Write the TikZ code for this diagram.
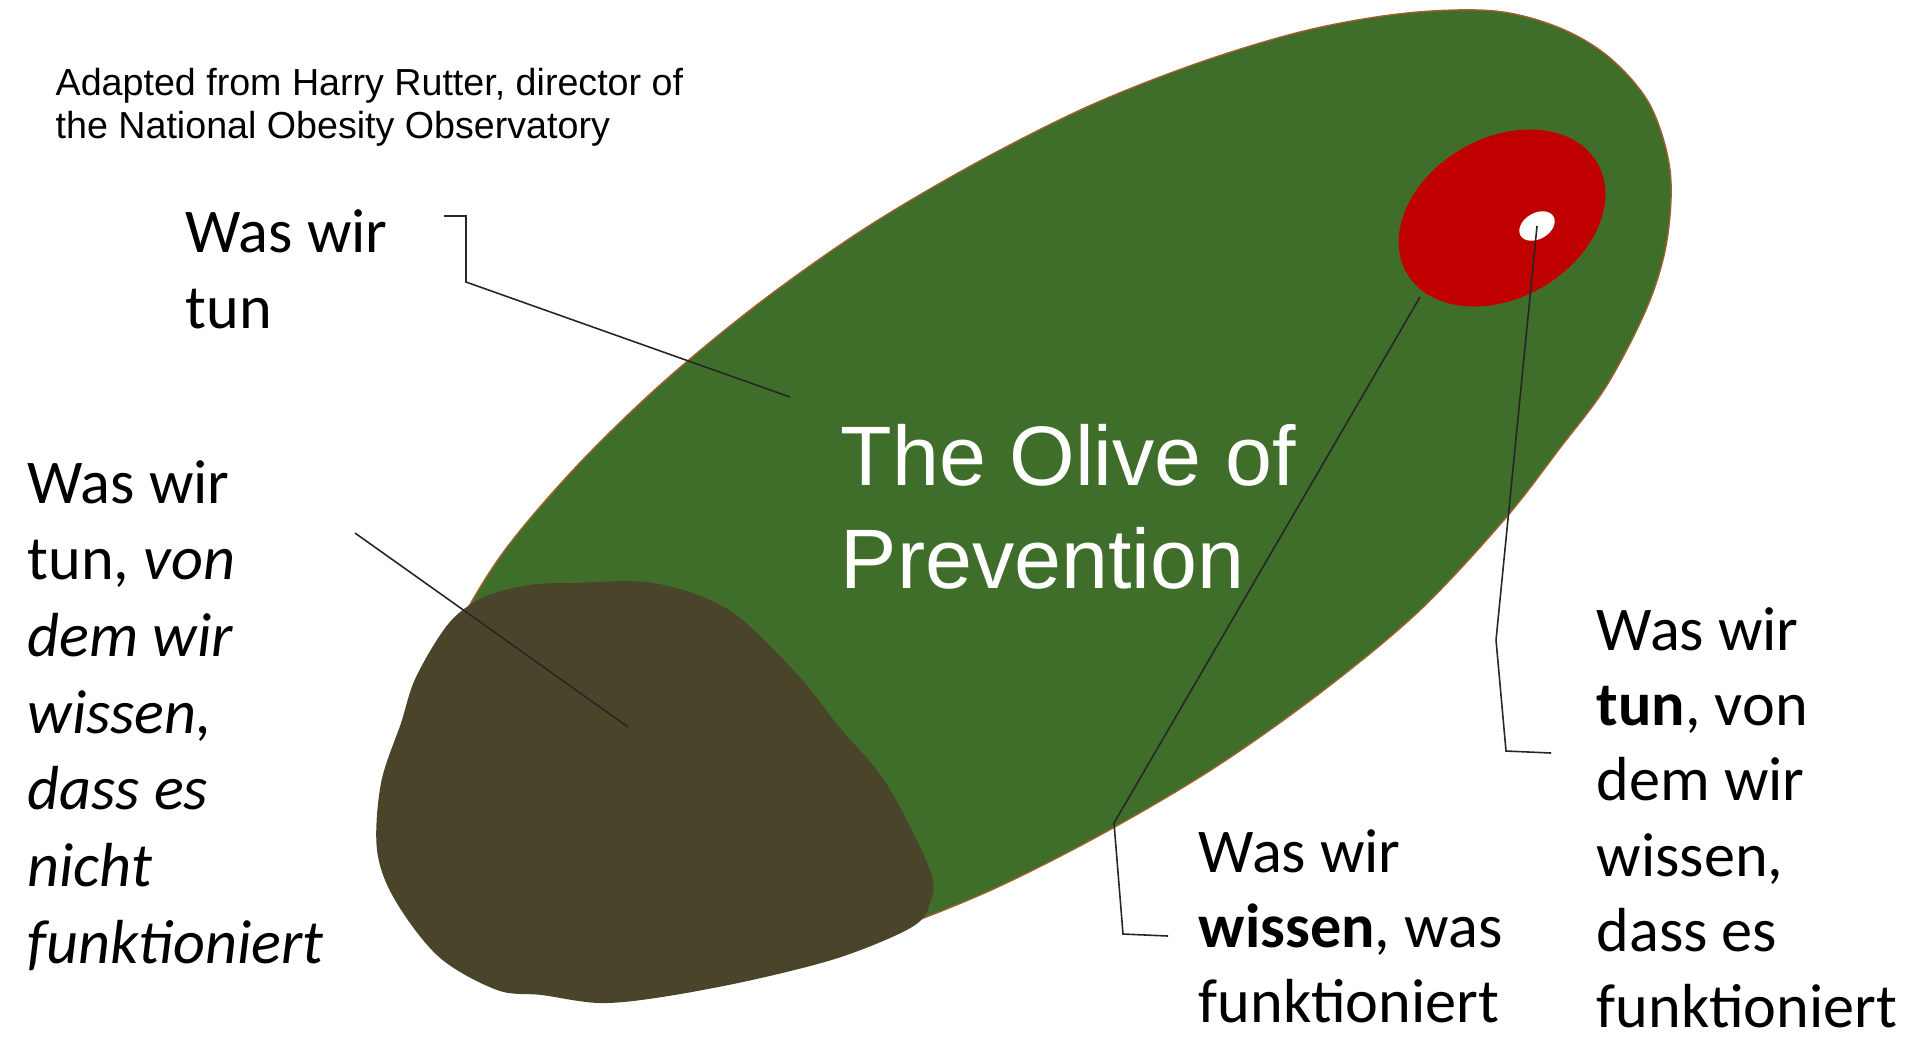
\documentclass[tikz,border=0pt]{standalone}
\usepackage{fontspec}
\setmainfont{Carlito}
\newfontfamily\arialf{Liberation Sans}
\usetikzlibrary{shapes.geometric}
\definecolor{oliveGreen}{RGB}{63,110,42}
\definecolor{oliveEdge}{RGB}{160,95,45}
\definecolor{blobBrown}{RGB}{74,68,42}
\definecolor{pitRed}{RGB}{192,0,0}
\newcommand{\txtlines}[1]{\begin{tabular}[t]{@{}l@{}}#1\end{tabular}}
\tikzset{
  lbl/.style={anchor=base west, inner sep=0pt, font=\fontsize{17.7}{21.8}\selectfont},
  lbltight/.style={anchor=base west, inner sep=0pt, font=\fontsize{17.7}{21.45}\selectfont},
  leader/.style={draw=black!85, line width=0.45pt},
}
\begin{document}
\begin{tikzpicture}[x=0.01cm, y=-0.01cm]
\useasboundingbox (0,0) rectangle (1931,1038);
% olive body
\filldraw[fill=oliveGreen, draw=oliveEdge, line width=0.4pt]
  plot[smooth cycle, tension=0.55] coordinates {
  (1495,11) (1560,28) (1610,58) (1650,105) (1670,170) (1667,240) (1648,305)
  (1607,385) (1560,448) (1504,520) (1418,612) (1320,693) (1214,768)
  (1102,834) (989,891) (877,935) (770,966) (671,983) (583,985) (509,972)
  (452,945) (414,904) (396,852) (396,789) (415,716) (452,637) (502,554)
  (574,469) (660,385) (758,304) (864,229) (976,163) (1089,106) (1201,62)
  (1308,30) (1407,13)};
% brown blob
\fill[blobBrown] plot[smooth cycle, tension=0.55] coordinates {
  (529,585) (573,583) (654,583) (729,610) (796,673) (840,728) (886,783)
  (930,870) (930,903) (912,927) (841,957) (752,980) (662,997) (600,1003)
  (542,995) (497,990) (439,957) (395,900) (377,850) (381,783) (401,723)
  (416,677) (449,623) (484,597)};
% pit
\node[ellipse, fill=pitRed, inner sep=0pt, minimum width=2.2cm, minimum height=1.6cm, rotate=30] (pit) at (1502,218) {};
\node[ellipse, fill=white, inner sep=0pt, minimum width=0.38cm, minimum height=0.26cm, rotate=30] (hole) at (1537,226) {};

% texts
\node[anchor=base west, inner sep=0pt, font=\arialf\fontsize{10.7}{12.5}\selectfont] (credit) at (55,95)
  {\txtlines{Adapted from Harry Rutter, director of\\the National Obesity Observatory}};
\node[anchor=base west, inner sep=0pt, text=white, font=\arialf\fontsize{24}{29.3}\selectfont] (title) at (840,485)
  {\txtlines{The Olive of\\Prevention}};
\node[lbl] (tun) at (185,252) {\txtlines{Was wir\\tun}};
\node[lbl] (nicht) at (27,503) {\txtlines{Was wir\\tun, \textit{von}\\\textit{dem wir}\\\textit{wissen,}\\\textit{dass es}\\\textit{nicht}\\\textit{funktioniert}}};
\node[lbltight] (wissen) at (1198,872) {\txtlines{Was wir\\\textbf{wissen}, was\\funktioniert}};
\node[lbltight] (tunwissen) at (1596,650) {\txtlines{Was wir\\\textbf{tun}, von\\dem wir\\wissen,\\dass es\\funktioniert}};

% connector points
\coordinate (a1) at (444,216); \coordinate (a2) at (466,216); \coordinate (a3) at (466,282); \coordinate (a4) at (790,397);
\coordinate (b1) at (355,533); \coordinate (b2) at (628,727);
\coordinate (c1) at (1168,936); \coordinate (c2) at (1123,934); \coordinate (c3) at (1114,823); \coordinate (c4) at (1420,297);
\coordinate (d1) at (1551,753); \coordinate (d2) at (1506,751); \coordinate (d3) at (1496,640); \coordinate (d4) at (hole.center);
\draw[leader] (a1) -- (a2) -- (a3) -- (a4);
\draw[leader] (b1) -- (b2);
\draw[leader] (c1) -- (c2) -- (c3) -- (c4);
\draw[leader] (d1) -- (d2) -- (d3) -- (d4);
\end{tikzpicture}
\end{document}
